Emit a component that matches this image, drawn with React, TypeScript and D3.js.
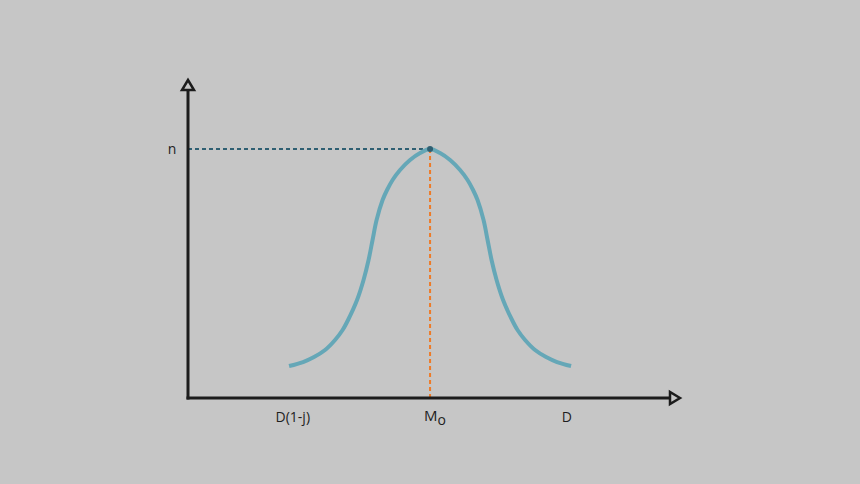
import React from "react";
import * as d3 from "d3";

const W = 860;
const H = 484;

// Curve samples (data units: x 0..100 along axis, y 0..100 up the axis)
const curveX = [
  20.54, 23.39, 25.62, 27.86, 29.89, 31.42, 32.53, 34.36, 35.68, 36.7, 37.51, 38.33, 39.55, 40.46, 41.58, 43.1, 45.13, 47.17,
  49.2,
  51.23, 53.27, 55.3, 56.82, 57.94, 58.85, 60.07, 60.89, 61.7, 62.72, 64.04, 65.87, 66.98, 68.51, 70.54, 72.78, 75.01, 77.86,
];
const curveY = [
  10.06, 11.32, 12.89, 15.09, 18.24, 21.38, 24.53, 30.82, 37.11, 43.4, 49.69, 55.97, 62.26, 65.41, 68.55, 71.7, 74.84, 77.04,
  78.3,
  77.04, 74.84, 71.7, 68.55, 65.41, 62.26, 55.97, 49.69, 43.4, 37.11, 30.82, 24.53, 21.38, 18.24, 15.09, 12.89, 11.32, 10.06,
];
const peakX = 49.2;
const peakY = 78.3;
const xLabels = [
  { x: 21.3, text: "D(1-j)" },
  { x: 77, text: "D" },
];
const yLabel = "n";

export default function App() {
  const x = d3.scaleLinear().domain([0, 100]).range([188, 680]);
  const y = d3.scaleLinear().domain([0, 100]).range([398, 80]);
  const pts: [number, number][] = curveX.map((v, i) => [v, curveY[i]]);
  const line = d3
    .line<[number, number]>()
    .x((d) => x(d[0]))
    .y((d) => y(d[1]))
    .curve(d3.curveCatmullRom.alpha(0.5));
  const font = "'Open Sans', sans-serif";
  const axisColor = "#1c1c1c";
  return (
    <svg width={W} height={H} style={{ position: "absolute", left: 0, top: 0 }}>
      <rect width={W} height={H} fill="#c6c6c6" />
      {/* dashed guides */}
      <line x1={x(0)} x2={x(peakX)} y1={y(peakY)} y2={y(peakY)} stroke="#2f5f72" strokeWidth={2} strokeDasharray="4 3" />
      <line x1={x(peakX)} x2={x(peakX)} y1={y(peakY)} y2={y(0)} stroke="#ee7a26" strokeWidth={2} strokeDasharray="4 3" />
      {/* curve */}
      <path d={line(pts) || ""} fill="none" stroke="#65a7b7" strokeWidth={4} />
      <circle cx={x(peakX)} cy={y(peakY)} r={3} fill="#2f5f72" />
      {/* axes */}
      <line x1={x(0)} x2={x(0)} y1={y(0) + 1.5} y2={y(100) + 8} stroke={axisColor} strokeWidth={3} />
      <line x1={x(0) - 1.5} x2={x(100) - 10} y1={y(0)} y2={y(0)} stroke={axisColor} strokeWidth={3} />
      <path
        d={`M${x(0)},${y(100)} L${x(0) - 6},${y(100) + 10} L${x(0) + 6},${y(100) + 10} Z`}
        fill="#c6c6c6"
        stroke={axisColor}
        strokeWidth={2.5}
        strokeLinejoin="miter"
      />
      <path
        d={`M${x(100)},${y(0)} L${x(100) - 10},${y(0) - 6} L${x(100) - 10},${y(0) + 6} Z`}
        fill="#c6c6c6"
        stroke={axisColor}
        strokeWidth={2.5}
        strokeLinejoin="miter"
      />
      {/* labels */}
      <text x={x(0) - 16} y={y(peakY) + 5} fontFamily={font} fontSize={14} fill="#1e1e1e" textAnchor="middle">
        {yLabel}
      </text>
      {xLabels.map((l) => (
        <text key={l.text} x={x(l.x)} y={y(0) + 24} fontFamily={font} fontSize={14} fill="#1e1e1e" textAnchor="middle">
          {l.text}
        </text>
      ))}
      <text x={x(peakX) + 5} y={y(0) + 23} fontFamily={font} fontSize={15} fill="#1e1e1e" textAnchor="middle">
        M<tspan dy={4} fontSize={14}>o</tspan>
      </text>
    </svg>
  );
}
